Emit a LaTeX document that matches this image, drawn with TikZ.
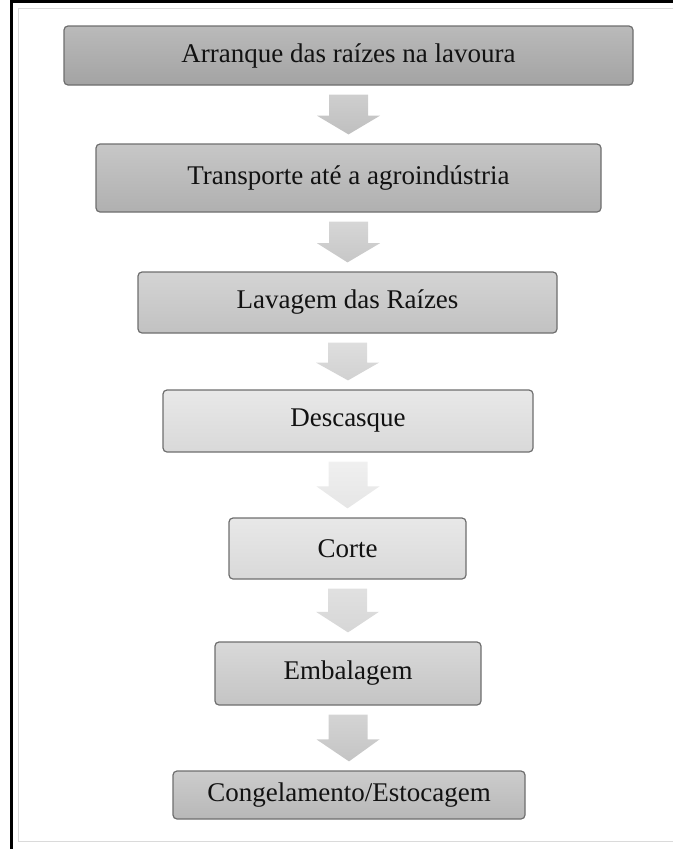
\documentclass[tikz,border=0pt]{standalone}
\usepackage{fontspec}
\setmainfont{Liberation Serif}
\usetikzlibrary{calc}
\definecolor{boxline}{HTML}{6E6E6E}
\definecolor{framegray}{HTML}{DADADA}
\tikzset{
  stepbox/.style={draw=boxline, line width=1.2pt, rounded corners=4pt,
    inner sep=0pt, font=\fontsize{27}{30}\selectfont, text=black!93},
}
\newcommand{\flowarrow}[4]{%
  \path[shade, top color=#3, bottom color=#4]
    let \p1=($(#1.south)+(0,9)$), \p2=($(#2.north)+(0,-9)$),
        \n1={\y2+0.47*(\y1-\y2)} in
    (\x1-19.5pt,\y1) -- (\x1+19.5pt,\y1) -- (\x1+19.5pt,\n1) -- (\x1+31.5pt,\n1)
    -- (\x2,\y2) -- (\x1-31.5pt,\n1) -- (\x1-19.5pt,\n1) -- cycle;}
\begin{document}
\begin{tikzpicture}[x=1pt,y=-1pt]
\useasboundingbox (0,0) rectangle (673,849);
% frame
\draw[line width=3pt] (11.5,849) -- (11.5,1.5) -- (673,1.5);
\draw[framegray, line width=1.5pt] (673,8.5) -- (18.5,8.5) -- (18.5,841.5) -- (673,841.5);
% boxes
\node[stepbox, minimum width=569pt, minimum height=59pt, top color=black!27, bottom color=black!36] (b1) at (348.5,55.5) {Arranque das raízes na lavoura};
\node[stepbox, minimum width=505pt, minimum height=68pt, top color=black!22, bottom color=black!31] (b2) at (348.5,178) {Transporte até a agroindústria};
\node[stepbox, minimum width=419pt, minimum height=61pt, top color=black!17, bottom color=black!24] (b3) at (347.5,302.5) {Lavagem das Raízes};
\node[stepbox, minimum width=370pt, minimum height=62pt, top color=black!9, bottom color=black!15] (b4) at (348,421) {Descasque};
\node[stepbox, minimum width=237pt, minimum height=61pt, top color=black!9, bottom color=black!15] (b5) at (347.5,548.5) {Corte};
\node[stepbox, minimum width=266pt, minimum height=63pt, top color=black!15, bottom color=black!23] (b6) at (348,673.5) {Embalagem};
\node[stepbox, minimum width=352pt, minimum height=48pt, top color=black!20, bottom color=black!28] (b7) at (349,795) {Congelamento/Estocagem};
% arrows
\flowarrow{b1}{b2}{black!19}{black!25}
\flowarrow{b2}{b3}{black!16}{black!22}
\flowarrow{b3}{b4}{black!13}{black!18}
\flowarrow{b4}{b5}{black!6}{black!10}
\flowarrow{b5}{b6}{black!12}{black!16}
\flowarrow{b6}{b7}{black!17}{black!23}
\end{tikzpicture}
\end{document}
